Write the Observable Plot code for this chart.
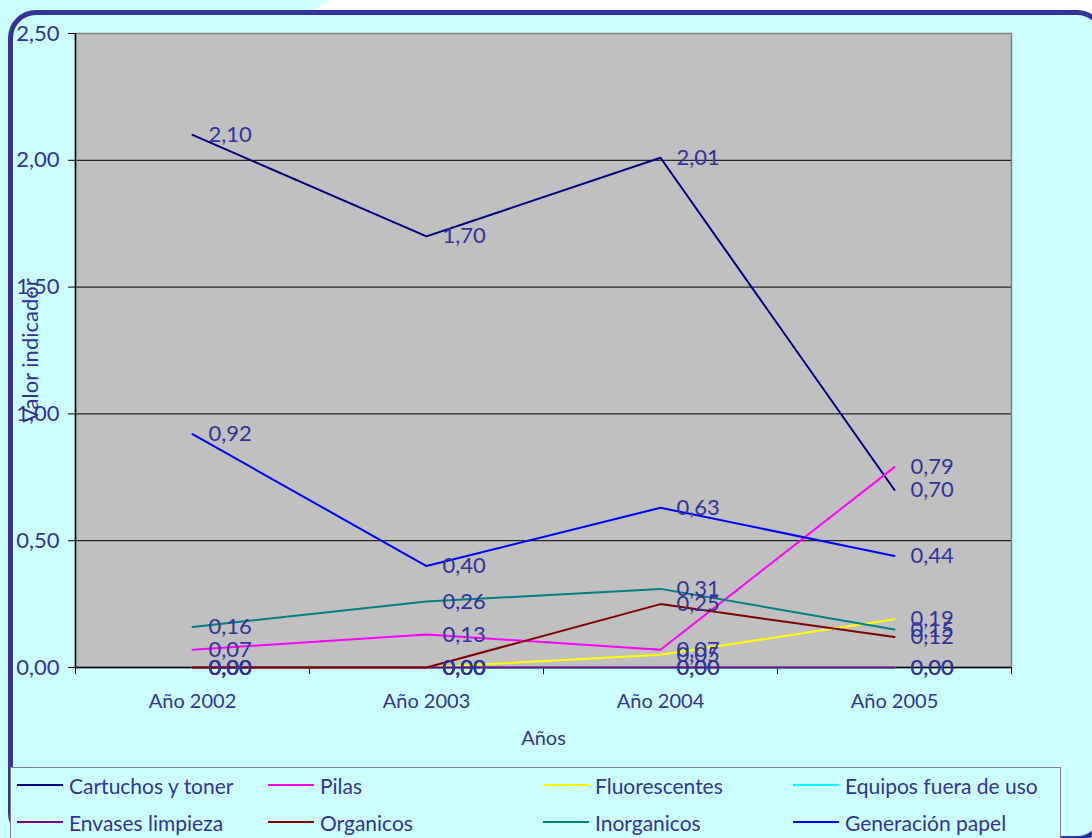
<!DOCTYPE html>
<html>
<head>
<meta charset="utf-8">
<script src="https://cdn.jsdelivr.net/npm/d3@7"></script>
<script src="https://cdn.jsdelivr.net/npm/@observablehq/plot@0.6"></script>
<style>
  html, body { margin: 0; padding: 0; }
  body { width: 1092px; height: 838px; position: relative; overflow: hidden; background: #ccffff; font-family: Lato, "Noto Sans", sans-serif; }
  #topwhite { position: absolute; left: 0; top: 0; width: 1092px; height: 14px; background: #ffffff;
    clip-path: polygon(330px 0, 1092px 0, 1092px 14px, 305px 14px); }
  #frame { position: absolute; left: 8px; top: 10px; width: 1087px; height: 821px; border: 5px solid #333399; border-radius: 28px; background: #ccffff; }
  #chart { position: absolute; left: 0; top: 0; }
  #legend { position: absolute; left: 10px; top: 767px; width: 1049px; height: 80px; border: 1px solid #7f7f7f; background: #ccffff; }
  .item { position: absolute; display: flex; align-items: center; color: #333399; font-size: 21px; height: 24px; white-space: nowrap; }
  .sw { width: 46px; height: 0; border-top: 2px solid; margin-right: 6px; }
</style>
</head>
<body>
<div id="topwhite"></div>
<div id="frame"></div>
<div id="chart"></div>
<div id="legend"></div>
<script>
const years = ["Año 2002", "Año 2003", "Año 2004", "Año 2005"];
const series = ["Cartuchos y toner", "Pilas", "Fluorescentes", "Equipos fuera de uso",
                "Envases limpieza", "Organicos", "Inorganicos", "Generación papel"];
const colors = ["#000080", "#ff00ff", "#ffff00", "#00ffff", "#800080", "#800000", "#008080", "#0000ff"];

const cartuchos    = [2.10, 1.70, 2.01, 0.70];
const pilas        = [0.07, 0.13, 0.07, 0.79];
const fluorescentes = [0.00, 0.00, 0.05, 0.19];
const equipos      = [0.00, 0.00, 0.00, 0.00];
const envases      = [0.00, 0.00, 0.00, 0.00];
const organicos    = [0.00, 0.00, 0.25, 0.12];
const inorganicos  = [0.16, 0.26, 0.31, 0.15];
const papel        = [0.92, 0.40, 0.63, 0.44];

const yTicks = [0, 0.5, 1, 1.5, 2, 2.5];

const values = [cartuchos, pilas, fluorescentes, equipos, envases, organicos, inorganicos, papel];
const data = [];
values.forEach((arr, s) => arr.forEach((v, i) => data.push({serie: series[s], i, value: v})));

const fmt = d => d.toFixed(2).replace(".", ",");

const chart = Plot.plot({
  width: 1092,
  height: 767,
  marginLeft: 75,
  marginRight: 81,
  marginTop: 33,
  marginBottom: 100,
  style: {fontFamily: "Lato, 'Noto Sans', sans-serif", background: "transparent", overflow: "visible", color: "black"},
  x: {domain: [0, 4]},
  y: {domain: [0, 2.5]},
  color: {domain: series, range: colors},
  marks: [
    Plot.frame({fill: "#c0c0c0", stroke: "#808080", strokeWidth: 1.5}),
    Plot.ruleY(yTicks.filter(d => d > 0 && d < 2.5), {stroke: "black", strokeWidth: 1}),
    Plot.ruleX([0], {stroke: "black", strokeWidth: 1.5}),
    Plot.ruleY([0], {stroke: "black", strokeWidth: 1.5}),
    Plot.axisY({ticks: yTicks, tickFormat: fmt, tickSize: 7, tickPadding: 9, fontSize: 22,
                stroke: "black", fill: "#333399", label: null}),
    Plot.axisX({ticks: [0, 1, 2, 3, 4], tickFormat: () => "", tickSize: 7, stroke: "black", label: null}),
    Plot.axisX({ticks: [0.5, 1.5, 2.5, 3.5], tickFormat: d => years[Math.round(d - 0.5)],
                tickSize: 0, tickPadding: 26, fontSize: 20, fill: "#333399", label: null}),
    Plot.text(["Años"], {frameAnchor: "bottom", dy: 77, fontSize: 20, fill: "#333399"}),
    Plot.text(["Valor indicador"], {frameAnchor: "left", textAnchor: "middle", dx: -45, rotate: -90,
                                    fontSize: 22, fill: "#333399"}),
    Plot.line(data, {x: d => d.i + 0.5, y: "value", z: "serie", stroke: "serie", strokeWidth: 2}),
    Plot.text(data, {x: d => d.i + 0.5, y: "value", text: d => fmt(d.value), dx: 16,
                     textAnchor: "start", fill: "#333399", fontSize: 22})
  ]
});
document.getElementById("chart").appendChild(chart);

// legend
const legend = document.getElementById("legend");
const colLeft = [6, 257, 532, 782];
const rowTop = [5, 42];
series.forEach((s, k) => {
  const item = document.createElement("div");
  item.className = "item";
  item.style.left = colLeft[k % 4] + "px";
  item.style.top = rowTop[Math.floor(k / 4)] + "px";
  const sw = document.createElement("span");
  sw.className = "sw";
  sw.style.borderTopColor = colors[k];
  const t = document.createElement("span");
  t.textContent = s;
  item.appendChild(sw);
  item.appendChild(t);
  legend.appendChild(item);
});
</script>
</body>
</html>
